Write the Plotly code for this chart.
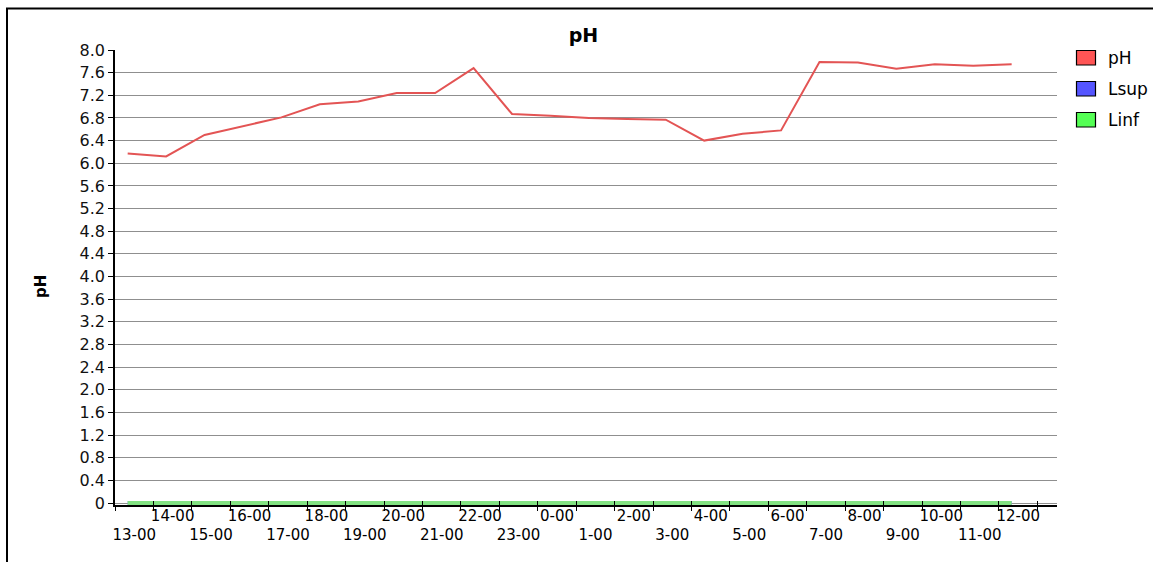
import plotly.graph_objects as go

# ---------------- data ----------------
hours = ["13-00", "14-00", "15-00", "16-00", "17-00", "18-00", "19-00", "20-00",
         "21-00", "22-00", "23-00", "0-00", "1-00", "2-00", "3-00", "4-00",
         "5-00", "6-00", "7-00", "8-00", "9-00", "10-00", "11-00", "12-00"]
ph_values = [6.17, 6.12, 6.50, 6.66, 6.81, 7.04, 7.09, 7.24, 7.24, 7.68, 6.87, 6.84,
             6.80, 6.78, 6.77, 6.40, 6.52, 6.58, 7.79, 7.78, 7.67, 7.75, 7.72, 7.75]
lsup_values = [0, 0, 0, 0, 0, 0, 0, 0, 0, 0, 0, 0, 0, 0, 0, 0, 0, 0, 0, 0, 0, 0, 0, 0]
linf_values = [0, 0, 0, 0, 0, 0, 0, 0, 0, 0, 0, 0, 0, 0, 0, 0, 0, 0, 0, 0, 0, 0, 0, 0]
y_tick_values = [0, 0.4, 0.8, 1.2, 1.6, 2.0, 2.4, 2.8, 3.2, 3.6, 4.0, 4.4, 4.8,
                 5.2, 5.6, 6.0, 6.4, 6.8, 7.2, 7.6, 8.0]
y_tick_labels = ["0", "0.4", "0.8", "1.2", "1.6", "2.0", "2.4", "2.8", "3.2", "3.6",
                 "4.0", "4.4", "4.8", "5.2", "5.6", "6.0", "6.4", "6.8", "7.2", "7.6", "8.0"]
series_names = ["pH", "Lsup", "Linf"]
legend_colors = ["#FF5555", "#5555FF", "#55FF55"]

# ---------------- layout geometry ----------------
W, H = 1153, 562
L, R, T, B = 115, 96, 50, 57
PW, PH = W - L - R, H - T - B


def px2x(px):
    return (px - L) / PW


def py2y(py):
    return (H - B - py) / PH


idx = list(range(len(hours)))
label_pos = [i + 0.17 for i in idx]
label_text = [("<br>" + h) if i % 2 == 0 else h for i, h in enumerate(hours)]
x_range = [-0.33, 24.18]
y_range = [-0.0353, 8.0]
FONT = "DejaVu Sans"

fig = go.Figure()
fig.add_trace(go.Scatter(x=idx, y=ph_values, mode="lines", name=series_names[0],
                         line=dict(color="#E35454", width=2), showlegend=False))
fig.add_trace(go.Scatter(x=idx, y=lsup_values, mode="lines", name=series_names[1],
                         line=dict(color="#7070F0", width=4), showlegend=False))
fig.add_trace(go.Scatter(x=idx, y=linf_values, mode="lines", name=series_names[2],
                         line=dict(color="rgb(130,226,130)", width=4), showlegend=False))
# helper traces so the overlay tick axes are drawn
fig.add_trace(go.Scatter(x=[], y=[], xaxis="x2", showlegend=False, hoverinfo="skip"))
fig.add_trace(go.Scatter(x=[], y=[], xaxis="x3", showlegend=False, hoverinfo="skip"))

tick_axis = dict(overlaying="x", anchor="y", range=x_range, tickmode="linear",
                 tick0=0.67, dtick=1, tickcolor="black", tickwidth=1,
                 showticklabels=False, showgrid=False, showline=False,
                 zeroline=False, automargin=False)

shapes = [
    dict(type="line", xref="paper", yref="paper", x0=px2x(7), x1=px2x(7),
         y0=py2y(H + 5), y1=py2y(8.5), line=dict(color="black", width=2)),
    dict(type="line", xref="paper", yref="paper", x0=px2x(6), x1=px2x(W + 5),
         y0=py2y(8.5), y1=py2y(8.5), line=dict(color="black", width=2)),
]
annotations = [
    dict(text="<b>pH</b>", textangle=-90, xref="paper", yref="paper",
         x=px2x(41), y=py2y(287), xanchor="center", yanchor="middle",
         showarrow=False, font=dict(family=FONT, size=15, color="black")),
]
for k, (nm, col) in enumerate(zip(series_names, legend_colors)):
    top = 50.5 + 31 * k
    shapes.append(dict(type="rect", xref="paper", yref="paper",
                       x0=px2x(1076.5), x1=px2x(1095.5), y0=py2y(top), y1=py2y(top + 14.5),
                       fillcolor=col, line=dict(color="black", width=1.2)))
    annotations.append(dict(text=nm, xref="paper", yref="paper", x=px2x(1106),
                            y=py2y(top + 7.5), xanchor="left", yanchor="middle",
                            showarrow=False, font=dict(family=FONT, size=17, color="black")))

fig.update_layout(
    width=W, height=H,
    margin=dict(l=L, r=R, t=T, b=B, pad=0),
    paper_bgcolor="white", plot_bgcolor="white",
    showlegend=False,
    title=dict(text="<b>pH</b>", x=px2x(583.5), xref="paper", xanchor="center",
               y=1 - 35 / H, yref="container", yanchor="middle",
               font=dict(family=FONT, size=19, color="black")),
    xaxis=dict(range=x_range, tickmode="array", tickvals=label_pos, ticktext=label_text,
               ticks="", tickangle=0, ticklabelstandoff=-4, showgrid=False, showline=True,
               linecolor="black", linewidth=1.5, zeroline=False, layer="below traces",
               automargin=False, tickfont=dict(family=FONT, size=15, color="black")),
    xaxis2=dict(ticks="outside", ticklen=5, **tick_axis),
    xaxis3=dict(ticks="inside", ticklen=4, **tick_axis),
    yaxis=dict(range=y_range, tickmode="array", tickvals=y_tick_values,
               ticktext=y_tick_labels, ticks="outside", ticklen=5, tickcolor="black",
               showline=True, linecolor="black", linewidth=1.5,
               showgrid=True, gridcolor="#8f8f8f", gridwidth=1, zeroline=False,
               automargin=False, tickfont=dict(family=FONT, size=16, color="#111")),
    shapes=shapes,
    annotations=annotations,
)

fig.write_html("out.html", config={"displayModeBar": False},
               post_script="document.body.style.margin='0';document.body.style.overflow='hidden';")
